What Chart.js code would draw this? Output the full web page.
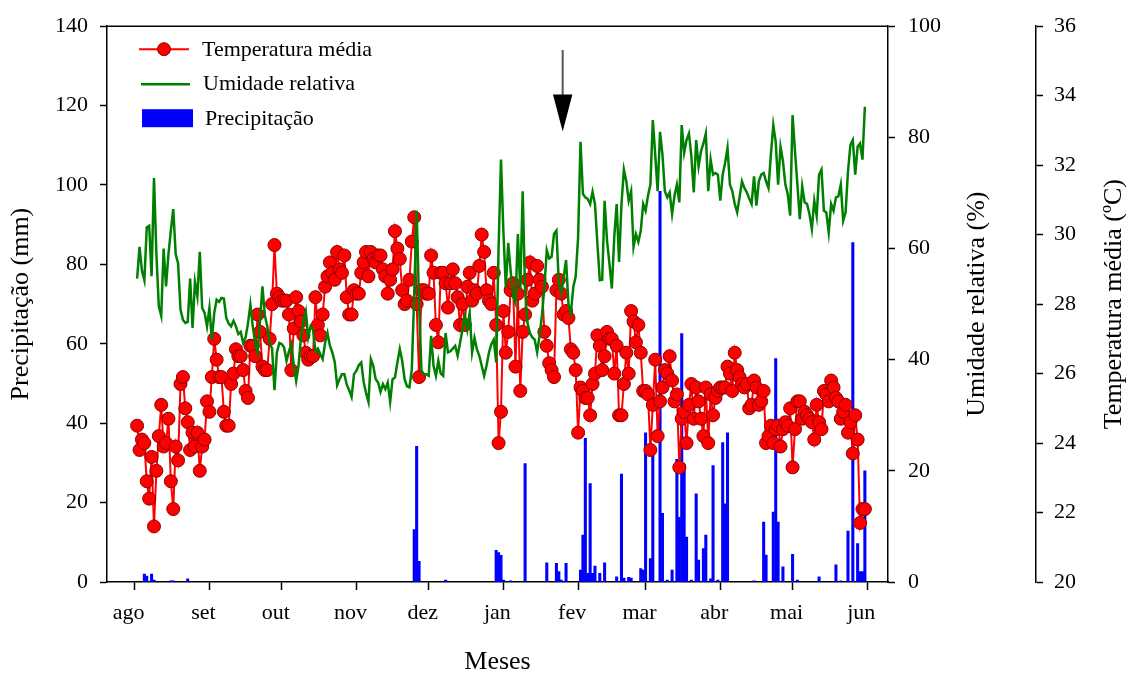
<!DOCTYPE html>
<html>
<head>
<meta charset="utf-8">
<script src="https://cdn.jsdelivr.net/npm/chart.js@4"></script>
<style>html,body{margin:0;padding:0;background:#fff;}canvas{display:block;}</style>
</head>
<body>
<canvas id="c" width="1132" height="673"></canvas>
<script>
// ---- data ----
const monthLabels = ['ago','set','out','nov','dez','jan','fev','mar','abr','mai','jun'];
const monthStartDays = [0,31,61,92,122,153,184,212,243,273,304]; // days since 1 Aug
const firstDay = 1; // first daily value = day 1

const temperatura = [
24.5,23.8,24.1,24.0,22.9,22.4,23.6,21.6,23.2,24.2,
25.1,23.9,24.0,24.7,22.9,22.1,23.9,23.5,25.7,25.9,
25.0,24.6,23.8,24.3,23.9,24.3,23.2,23.9,24.1,25.2,
24.9,25.9,27.0,26.4,25.9,25.9,24.9,24.5,24.5,25.7,
26.0,26.7,26.5,26.5,26.1,25.5,25.3,26.8,26.8,26.5,
27.7,27.2,26.2,26.1,26.1,27.0,28.0,29.7,28.3,28.2,
28.1,28.1,28.1,27.7,26.1,27.3,28.2,27.8,27.5,27.1,
26.6,26.4,26.5,26.5,28.2,27.4,27.1,27.7,28.5,28.8,
29.2,28.9,28.7,29.5,29.0,28.9,29.4,28.2,27.7,27.7,
28.4,28.3,28.3,28.9,29.2,29.5,28.8,29.5,29.3,29.2,
29.4,29.4,29.0,28.8,28.3,28.7,29.0,30.1,29.6,29.3,
28.4,28.0,28.1,28.7,29.8,30.5,28.0,25.9,28.4,28.4,
28.3,28.3,29.4,28.9,27.4,26.9,28.9,28.9,28.6,27.9,
28.6,29.0,28.6,28.2,27.4,28.0,27.4,28.5,28.9,28.1,
28.4,28.3,29.1,30.0,29.5,28.4,28.1,28.0,28.9,27.4,
24.0,24.9,27.8,26.6,27.2,28.4,28.6,26.2,28.3,25.5,
27.2,27.7,28.7,29.2,28.1,28.3,29.1,28.7,28.5,27.2,
26.8,26.3,26.1,25.9,28.4,28.7,28.3,27.7,27.8,27.6,
26.7,26.6,26.1,24.3,25.6,25.5,25.3,25.3,24.8,25.7,
26.0,27.1,26.8,26.1,26.5,27.2,27.0,27.0,26.0,26.8,
24.8,24.8,25.7,26.6,26.0,27.8,27.5,26.9,27.4,26.6,
25.5,25.5,25.4,23.8,25.1,26.4,24.2,25.2,25.6,26.1,
26.0,26.5,25.8,25.2,25.4,23.3,24.7,24.9,24.0,25.1,
25.7,24.7,25.6,25.2,24.7,24.2,25.6,24.0,25.4,24.8,
25.3,25.5,25.6,25.6,25.6,26.2,26.0,25.5,26.6,26.1,
25.9,25.7,25.6,25.7,25.0,25.1,25.8,25.6,25.1,25.2,
25.5,24.0,24.2,24.5,24.0,24.4,24.5,23.9,24.4,24.6,
24.5,25.0,23.3,24.4,25.2,25.2,24.7,24.9,24.8,24.7,
24.6,24.1,25.1,24.6,24.4,25.5,25.4,25.2,25.8,25.6,
25.3,25.2,24.7,24.9,25.1,24.3,24.6,23.7,24.8,24.1,
21.7,22.1,22.1
];

const umidade = [
54.6,60.3,56.0,54.3,63.8,64.1,55.0,72.7,59.0,49.6,
47.9,60.0,53.2,59.0,63.2,67.1,59.0,57.3,49.0,47.2,
46.6,46.8,54.6,45.7,54.0,51.4,59.4,49.3,48.4,46.0,
49.3,43.6,48.4,50.8,50.4,51.1,51.0,47.5,46.5,46.0,
47.0,46.0,44.6,45.0,43.0,44.0,46.5,49.9,46.0,43.0,
41.3,47.0,53.2,48.0,46.0,43.0,42.0,34.5,41.3,43.0,
42.8,42.2,39.8,41.5,42.8,39.0,36.2,39.0,44.0,47.0,
48.7,44.0,46.0,45.4,41.5,42.0,41.0,40.1,43.0,44.8,
42.5,41.3,39.6,35.4,36.5,37.4,37.4,35.5,34.5,33.3,
37.4,38.0,39.0,39.5,36.0,34.0,32.4,40.1,38.9,36.5,
35.9,34.2,35.6,34.7,35.9,32.4,36.5,36.8,39.5,41.9,
39.8,36.5,35.2,35.0,38.3,52.0,66.8,50.0,38.0,37.4,
37.4,37.1,44.3,38.9,37.1,39.8,37.5,37.1,44.8,41.3,
41.5,42.0,42.5,40.7,43.0,45.4,47.8,45.4,48.4,41.3,
43.9,41.9,40.7,38.9,37.1,38.9,41.3,42.8,43.6,39.5,
60.0,76.0,63.0,53.0,61.0,56.0,51.4,50.2,62.6,52.5,
70.3,52.5,46.6,44.8,44.0,43.6,41.3,44.3,48.0,53.0,
59.7,58.2,58.5,62.6,63.2,53.7,52.0,54.9,57.9,50.0,
48.4,53.1,55.0,62.0,79.2,69.8,69.2,68.9,68.0,70.2,
68.0,60.9,54.3,54.4,68.6,61.4,57.3,52.8,62.0,68.0,
57.6,68.0,74.2,72.1,68.6,70.3,60.3,62.6,61.2,63.2,
68.0,66.8,69.5,71.5,83.1,76.9,70.3,81.0,76.9,70.3,
69.2,70.1,66.2,69.5,71.5,68.3,82.2,77.2,79.5,80.7,
76.6,70.1,79.5,74.8,77.5,78.9,80.7,70.3,76.0,73.3,
73.6,73.3,68.6,73.3,75.4,78.1,71.5,70.3,68.0,66.5,
69.2,72.1,70.9,70.1,69.0,68.0,73.0,67.7,72.1,73.3,
73.6,72.1,70.9,76.9,82.2,79.2,71.5,78.3,75.7,71.5,
69.8,65.9,84.0,77.5,71.5,65.3,71.2,68.3,68.0,66.2,
63.5,68.6,65.9,73.3,74.2,66.8,66.5,62.9,68.0,66.8,
69.2,69.4,71.5,65.0,66.5,73.9,78.6,79.5,73.3,78.3,
78.9,76.0,85.5
];

// rainy days (same index as daily series) and rainfall (mm)
const precipDias = [3,4,6,7,14,15,21,115,116,117,128,149,150,151,152,155,161,170,174,175,176,178,
184,185,186,187,188,189,190,192,194,199,201,202,204,205,209,210,211,213,214,217,218,220,222,
224,225,226,227,228,230,232,233,235,236,238,239,241,243,244,245,256,260,261,264,265,266,268,272,274,
283,290,292,295,297,299,300,301,302];
const precipMm = [2.0,1.5,2.0,0.5,0.3,0.3,0.8,13.2,34.2,5.2,0.5,8.0,7.4,6.7,0.5,0.3,29.8,4.8,4.7,2.6,0.5,4.7,
3.0,11.8,36.2,2.2,24.8,2.2,4.0,2.2,4.8,1.3,27.2,1.0,1.2,1.0,3.4,3.0,37.6,5.9,33.8,98.4,17.3,0.5,3.0,
30.9,16.3,62.6,29.7,11.3,0.5,22.2,5.5,8.4,11.8,0.8,29.3,0.5,35.1,19.7,37.6,0.3,15.1,6.8,17.6,56.3,15.1,3.8,7.0,0.5,
1.3,4.3,0.3,12.8,85.5,9.7,2.6,2.6,28.0];

const arrowMark = {day: 177.6, fromMm: 134, toMm: 113.5};

// ---- chart ----
const FONT = '"Liberation Serif","Times New Roman",serif';
Chart.defaults.font.family = FONT;
Chart.defaults.color = '#000';

const tempPts = temperatura.map((v, i) => ({x: firstDay + i, y: v}));
const umiPts = umidade.map((v, i) => ({x: firstDay + i, y: v}));
const precipPts = precipDias.map((d, k) => ({x: firstDay + d, y: precipMm[k]}));

const axisGrid = {drawOnChartArea: false, tickLength: 7, tickColor: '#000', tickWidth: 1.5};
const axisBorder = {display: true, color: '#000', width: 1.5};

const decor = {
  id: 'decor',
  afterDraw(chart) {
    const ctx = chart.ctx;
    const a = chart.chartArea;
    const sx = chart.scales.x, sp = chart.scales.yP, sh = chart.scales.yH, st = chart.scales.yT;
    ctx.save();
    // top frame line
    ctx.strokeStyle = '#000'; ctx.lineWidth = 1.5;
    ctx.beginPath(); ctx.moveTo(a.left, a.top); ctx.lineTo(a.right, a.top); ctx.stroke();
    // right axis titles (reading bottom to top)
    ctx.font = '26px ' + FONT; ctx.fillStyle = '#000';
    ctx.textAlign = 'center'; ctx.textBaseline = 'middle';
    const cy = (a.top + a.bottom) / 2;
    [[sh.left + 89, 'Umidade relativa (%)'], [st.left + 78, 'Temperatura média (ºC)']].forEach(([tx, t]) => {
      ctx.save(); ctx.translate(tx, cy); ctx.rotate(-Math.PI / 2); ctx.fillText(t, 0, 0); ctx.restore();
    });
    // legend
    const lx = a.left, ly = a.top;
    ctx.font = '22px ' + FONT; ctx.textAlign = 'left';
    ctx.strokeStyle = '#ff0000'; ctx.lineWidth = 2;
    ctx.beginPath(); ctx.moveTo(lx + 32, ly + 23); ctx.lineTo(lx + 82, ly + 23); ctx.stroke();
    ctx.beginPath(); ctx.arc(lx + 57, ly + 23, 6.5, 0, Math.PI * 2);
    ctx.fillStyle = '#ff0000'; ctx.fill(); ctx.strokeStyle = '#8b0000'; ctx.lineWidth = 1; ctx.stroke();
    ctx.fillStyle = '#000'; ctx.fillText('Temperatura média', lx + 95, ly + 24);
    ctx.strokeStyle = '#008000'; ctx.lineWidth = 2.5;
    ctx.beginPath(); ctx.moveTo(lx + 34, ly + 58); ctx.lineTo(lx + 83, ly + 58); ctx.stroke();
    ctx.fillText('Umidade relativa', lx + 96, ly + 58);
    ctx.fillStyle = '#0000ff'; ctx.fillRect(lx + 35, ly + 83, 51, 18);
    ctx.fillStyle = '#000'; ctx.fillText('Precipitação', lx + 98, ly + 93);
    // arrow
    const ax = sx.getPixelForValue(arrowMark.day);
    const y0 = sp.getPixelForValue(arrowMark.fromMm);
    const y1 = sp.getPixelForValue(arrowMark.toMm);
    const headH = 37, headW = 9.7;
    ctx.strokeStyle = '#555'; ctx.lineWidth = 2;
    ctx.beginPath(); ctx.moveTo(ax, y0); ctx.lineTo(ax, y1 - headH + 1); ctx.stroke();
    ctx.fillStyle = '#000';
    ctx.beginPath(); ctx.moveTo(ax - headW, y1 - headH); ctx.lineTo(ax + headW, y1 - headH); ctx.lineTo(ax, y1); ctx.closePath(); ctx.fill();
    ctx.restore();
  }
};

new Chart(document.getElementById('c'), {
  type: 'bar',
  data: {
    datasets: [
      {type: 'line', label: 'Umidade relativa', data: umiPts, yAxisID: 'yH', borderColor: '#008000', borderWidth: 2.5, pointRadius: 0, tension: 0, order: 0},
      {type: 'line', label: 'Temperatura média', data: tempPts, yAxisID: 'yT', borderColor: '#ff0000', borderWidth: 2, pointRadius: 6.5, pointBackgroundColor: '#ff0000', pointBorderColor: '#8b0000', pointBorderWidth: 1, tension: 0, order: 1},
      {type: 'bar', label: 'Precipitação', data: precipPts, yAxisID: 'yP', backgroundColor: '#0000ff', borderWidth: 0, barThickness: 2.4, order: 2}
    ]
  },
  options: {
    responsive: false, animation: false, devicePixelRatio: 1,
    layout: {padding: {top: 21, left: 0, right: 0, bottom: 0}},
    plugins: {legend: {display: false}, tooltip: {enabled: false}},
    scales: {
      x: {
        type: 'linear', min: -11.5, max: 312.6, offset: false,
        afterBuildTicks: s => { s.ticks = monthStartDays.map(v => ({value: v})); },
        ticks: {callback: (v, i) => monthLabels[i], font: {size: 22}, padding: 10, labelOffset: -6, maxRotation: 0, autoSkip: false},
        grid: {drawOnChartArea: false, offset: false, tickLength: 8, tickColor: '#000', tickWidth: 1.5},
        border: axisBorder,
        title: {display: true, text: 'Meses', font: {size: 26, lineHeight: 0.85}, padding: 0},
        afterFit: s => { s.height = 91; }
      },
      yP: {
        position: 'left', min: 0, max: 140,
        ticks: {stepSize: 20, font: {size: 22}, padding: 12},
        grid: axisGrid, border: axisBorder,
        title: {display: true, text: 'Precipitação (mm)', font: {size: 26}, padding: {top: 6, bottom: 0}},
        afterFit: s => { s.width = 107; }
      },
      yH: {
        position: 'right', weight: 0, min: 0, max: 100,
        ticks: {stepSize: 20, font: {size: 22}, padding: 13},
        grid: axisGrid, border: axisBorder,
        afterFit: s => { s.width = 148; }
      },
      yT: {
        position: 'right', weight: 1, min: 20, max: 36,
        ticks: {stepSize: 2, font: {size: 22}, padding: 11},
        grid: axisGrid, border: axisBorder,
        afterFit: s => { s.width = 96; }
      }
    }
  },
  plugins: [decor]
});
</script>
</body>
</html>
